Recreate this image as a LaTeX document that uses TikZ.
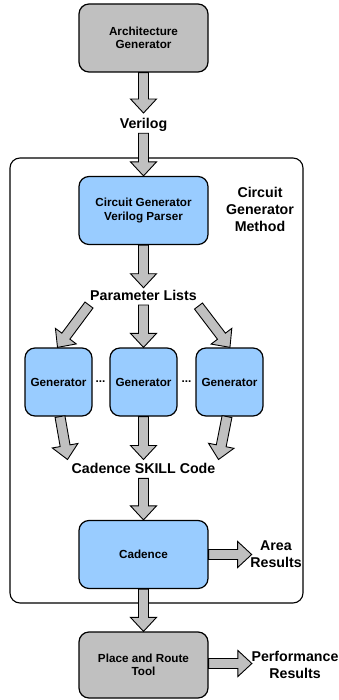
\documentclass[tikz,border=0pt]{standalone}
\usepackage{fontspec}
\setmainfont{Liberation Sans}
\usetikzlibrary{calc}
\definecolor{boxgray}{HTML}{C0C0C0}
\definecolor{boxblue}{HTML}{99CCFF}
\definecolor{arrgray}{HTML}{C0C0C0}
\tikzset{
  block/.style={draw=black, line width=1.2pt, rounded corners=10pt,
    minimum width=129pt, minimum height=68pt, align=center, inner sep=0pt,
    font=\fontsize{11.7}{13.5}\selectfont\bfseries},
  grayblock/.style={block, fill=boxgray},
  blueblock/.style={block, fill=boxblue},
  genblock/.style={blueblock, minimum width=67pt},
  lbl/.style={font=\fontsize{14.2}{17}\selectfont\bfseries, align=center, inner sep=0pt},
  dotlbl/.style={font=\fontsize{11.7}{13.5}\selectfont\bfseries, inner sep=0pt},
  frame/.style={draw=black, line width=1.1pt, rounded corners=10pt, inner sep=0pt},
  fatarr/.style={draw=black, fill=arrgray, line width=0.9pt, line join=miter},
}
% block arrow from #1 to #2: 10pt shaft, 26pt wide head, 14pt long
\newcommand\fatarrow[2]{%
  \draw[fatarr] let \p1=(#1), \p2=(#2),
      \n1={atan2(\y2-\y1,\x2-\x1)}, \n2={veclen(\x2-\x1,\y2-\y1)} in
    [shift={(\p1)}, rotate=\n1]
    (0pt,-5pt) -- ({\n2-14pt},-5pt) -- ({\n2-14pt},-13pt) -- ({\n2},0pt)
    -- ({\n2-14pt},13pt) -- ({\n2-14pt},5pt) -- (0pt,5pt) -- cycle;}

\begin{document}
\begin{tikzpicture}[x=1pt, y=-1pt]
  \useasboundingbox (0,0) rectangle (339,700);

  % enclosing frame of the circuit generator method
  \node[frame, minimum width=293pt, minimum height=445pt] (frame) at (156.5,380.5) {};

  % blocks
  \node[grayblock] (arch) at (143.5,38) {Architecture\\Generator};
  \node[blueblock] (parser) at (143.5,210.5) {Circuit Generator\\Verilog Parser};
  \node[genblock] (g1) at (58.5,382) {Generator};
  \node[genblock] (g2) at (143.5,382) {Generator};
  \node[genblock] (g3) at (229.5,382) {Generator};
  \node[blueblock] (cad) at (143.5,554.5) {Cadence};
  \node[grayblock, minimum height=66pt] (pnr) at (143.5,665) {Place and Route\\Tool};

  % labels
  \node[lbl, anchor=base] (verilog) at (143.5,129) {Verilog};
  \node[lbl] (method) at (260,209) {Circuit\\Generator\\Method};
  \node[lbl, anchor=base] (plist) at (143.5,300.7) {Parameter Lists};
  \node[dotlbl] (dots1) at (100.5,381.5) {...};
  \node[dotlbl] (dots2) at (186.5,381.5) {...};
  \node[lbl, anchor=base] (skill) at (143.5,473) {Cadence SKILL Code};
  \node[lbl] (area) at (276,554.5) {Area\\Results};
  \node[lbl] (perf) at (295,665) {Performance\\Results};

  % block arrows
  \fatarrow{arch.south}{$(verilog.north)+(0,-5.5)$}
  \fatarrow{$(verilog.south)+(0,1)$}{parser.north}
  \fatarrow{parser.south}{$(plist.north)+(0,-2.5)$}
  \fatarrow{$(plist.south)+(0,4)$}{g2.north}
  \fatarrow{$(plist.south west)+(-1,4)$}{$(g1.north)+(-1,0)$}
  \fatarrow{$(plist.south east)+(1.5,5)$}{$(g3.north)+(0.5,0)$}
  \fatarrow{$(g1.south)+(1.5,0)$}{$(skill.north west)+(-4,-3)$}
  \fatarrow{g2.south}{$(skill.north)+(0,-3)$}
  \fatarrow{$(g3.south)+(-2.5,0)$}{$(skill.north east)+(3,-3)$}
  \fatarrow{$(skill.south)+(0,5)$}{cad.north}
  \fatarrow{cad.east}{$(area.west)+(1.5,0)$}
  \fatarrow{cad.south}{pnr.north}
  \fatarrow{$(pnr.east)+(0,-1.5)$}{$(perf.west)+(0.5,-1.5)$}
\end{tikzpicture}
\end{document}
